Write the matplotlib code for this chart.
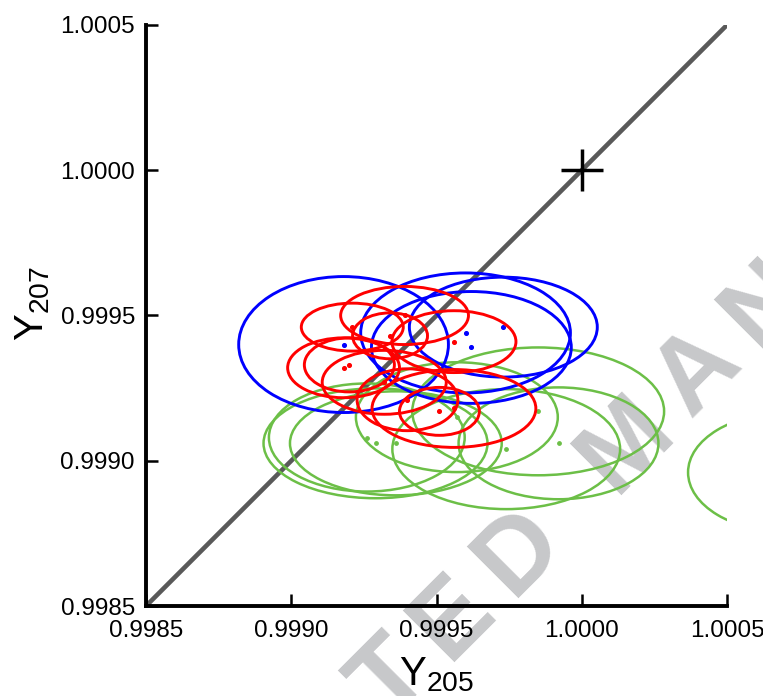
import matplotlib
matplotlib.use('Agg')
import matplotlib.pyplot as plt
from matplotlib.patches import Ellipse
from matplotlib.font_manager import FontProperties

plt.rcParams['font.family'] = ['Liberation Sans', 'DejaVu Sans']
plt.rcParams['mathtext.fontset'] = 'custom'
plt.rcParams['mathtext.rm'] = 'Liberation Sans'
plt.rcParams['mathtext.it'] = 'Liberation Sans'

# centres and full widths/heights of the confidence ellipses
blue_x = [0.99918, 0.99960, 0.99962, 0.99973]
blue_y = [0.99940, 0.99944, 0.99939, 0.99946]
blue_w = [0.000722, 0.000722, 0.000688, 0.000647]
blue_h = [0.000468, 0.000413, 0.000385, 0.000344]

red_x = [0.99921, 0.99939, 0.99934, 0.99956, 0.99918, 0.99920, 0.99932, 0.99940, 0.99951, 0.99956]
red_y = [0.99946, 0.99950, 0.99943, 0.99941, 0.99932, 0.99933, 0.99927, 0.99921, 0.99917, 0.99918]
red_w = [0.000351, 0.000440, 0.000258, 0.000427, 0.000385, 0.000310, 0.000427, 0.000347, 0.000275, 0.000564]
red_h = [0.000165, 0.000200, 0.000158, 0.000213, 0.000206, 0.000186, 0.000220, 0.000213, 0.000165, 0.000268]

green_x = [0.99929, 0.99926, 0.99936, 0.99957, 0.99985, 0.99992, 0.99974, 1.00071]
green_y = [0.99906, 0.99908, 0.99906, 0.99915, 0.99917, 0.99906, 0.99904, 0.99896]
green_w = [0.000771, 0.000674, 0.000729, 0.000695, 0.000867, 0.000688, 0.000784, 0.000688]
green_h = [0.000378, 0.000372, 0.000358, 0.000378, 0.000440, 0.000385, 0.000413, 0.000413]

ticks = [0.9985, 0.9990, 0.9995, 1.0000, 1.0005]

W, H = 763, 696
fig = plt.figure(figsize=(W / 100, H / 100), dpi=100)
ax = fig.add_axes([0.1914, 0.1293, 0.7614, 0.8348])
ax.patch.set_facecolor('none')

# watermark, letters set one by one along a 45 degree line with extra tracking
wm = 'ACCEPTED MANUSCRIPT'
wm_prop = FontProperties(family='Liberation Sans', weight='bold', size=76)
rend = fig.canvas.get_renderer()
def adv(c):
    w1 = rend.get_text_width_height_descent('I' + c + 'I', wm_prop, ismath=False)[0]
    w0 = rend.get_text_width_height_descent('II', wm_prop, ismath=False)[0]
    return w1 - w0
track = 0.19 * 76 * 100 / 72
steps = [adv(c) + track for c in wm]
d_idx = wm.index('D')
ox, oy = 512.0, H - 598.0  # baseline origin of the "D", pixels from bottom-left
for i, c in enumerate(wm):
    s = sum(steps[:i]) - sum(steps[:d_idx])
    px, py = ox + s * 0.7071, oy + s * 0.7071
    # only letters that reach the canvas
    if c == ' ' or py + 110 < 0 or px - 60 > W:
        continue
    fig.text(px / W, py / H, c, rotation=45, rotation_mode='anchor',
             ha='left', va='baseline', fontproperties=wm_prop,
             color='#c7c8ca', zorder=-5)

ax.plot([ticks[0], ticks[-1]], [ticks[0], ticks[-1]], color='#595959', lw=3.3, zorder=1)

for x, y, w, h in zip(green_x, green_y, green_w, green_h):
    ax.add_patch(Ellipse((x, y), w, h, fill=False, ec='#6cbf47', lw=1.8, zorder=2))
ax.scatter(green_x, green_y, s=6, color='#6cbf47', zorder=2)

for x, y, w, h in zip(blue_x, blue_y, blue_w, blue_h):
    ax.add_patch(Ellipse((x, y), w, h, fill=False, ec='#0000ff', lw=2.1, zorder=3))
ax.scatter(blue_x, blue_y, s=7, color='#0000ff', zorder=3)

for x, y, w, h in zip(red_x, red_y, red_w, red_h):
    ax.add_patch(Ellipse((x, y), w, h, fill=False, ec='#ff0000', lw=2.1, zorder=4))
ax.scatter(red_x, red_y, s=7, color='#ff0000', zorder=4)

ax.plot([1.0], [1.0], marker='+', ms=30, mew=2.5, color='black', zorder=5)

ax.set_xlim(ticks[0], ticks[-1])
ax.set_ylim(ticks[0], ticks[-1])
ax.set_xticks(ticks)
ax.set_yticks(ticks)
ax.set_xticklabels(['%.4f' % t for t in ticks])
ax.set_yticklabels(['%.4f' % t for t in ticks])
ax.tick_params(direction='in', length=8.5, width=1.8, labelsize=17.5, color='black')
ax.tick_params(axis='x', pad=10)
ax.tick_params(axis='y', pad=8)
for s in ['top', 'right']:
    ax.spines[s].set_visible(False)
for s in ['left', 'bottom']:
    ax.spines[s].set_linewidth(2.8)

ax.set_xlabel(r'$\mathrm{Υ}_{\mathrm{205}}$', fontsize=29)
ax.set_ylabel(r'$\mathrm{Υ}_{\mathrm{207}}$', fontsize=29)
ax.xaxis.set_label_coords(0.5, -0.085)
ax.yaxis.set_label_coords(-0.162, 0.52)

fig.savefig('out.png', dpi=100, facecolor='white')
